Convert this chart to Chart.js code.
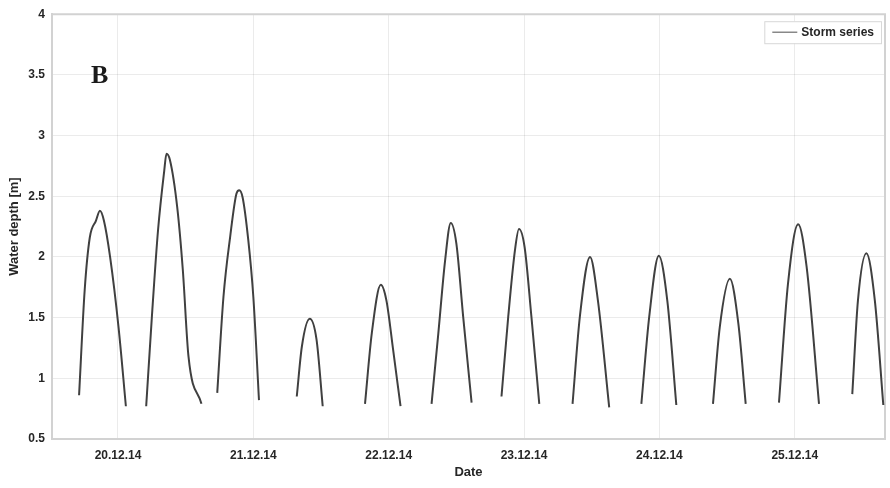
<!DOCTYPE html>
<html>
<head>
<meta charset="utf-8">
<script src="https://cdn.jsdelivr.net/npm/chart.js@4/dist/chart.umd.min.js"></script>
<style>
  html, body { margin: 0; padding: 0; background: #ffffff; }
  canvas { display: block; }
</style>
</head>
<body>
<canvas id="chart" width="890" height="488"></canvas>
<script>
// Tick labels for the date axis (one per day, at midnight)
const dateLabels = ['20.12.14', '21.12.14', '22.12.14', '23.12.14', '24.12.14', '25.12.14'];
const dateTickHours = [0, 24, 48, 72, 96, 120];
const depthTicks = [0.5, 1, 1.5, 2, 2.5, 3, 3.5, 4];

// Storm series: hours since 20.12.14 00:00, one array per high-water window
const seg1Hours  = [-6.9, -5.9, -5.0, -3.9, -3.2, -2.5, -1.4, 0.1, 1.4];
const seg1Depth  = [0.86, 1.73, 2.16, 2.30, 2.38, 2.30, 2.00, 1.42, 0.77];
const seg2Hours  = [5.0, 6.0, 7.1, 8.2, 8.6, 9.2, 10.5, 11.5, 12.5, 14.8];
const seg2Depth  = [0.77, 1.50, 2.22, 2.71, 2.85, 2.80, 2.41, 1.89, 1.18, 0.79];
const seg3Hours  = [17.6, 18.7, 19.9, 21.0, 21.5, 22.1, 23.1, 24.0, 25.0];
const seg3Depth  = [0.88, 1.67, 2.17, 2.52, 2.55, 2.49, 2.14, 1.67, 0.82];
const seg4Hours  = [31.7, 32.6, 34.0, 35.2, 36.3];
const seg4Depth  = [0.85, 1.26, 1.49, 1.32, 0.77];
const seg5Hours  = [43.8, 45.0, 46.6, 47.6, 48.8, 50.1];
const seg5Depth  = [0.79, 1.37, 1.77, 1.64, 1.23, 0.77];
const seg6Hours  = [55.6, 56.8, 58.0, 59.0, 60.0, 61.2, 62.7];
const seg6Depth  = [0.79, 1.37, 1.97, 2.28, 2.11, 1.51, 0.80];
const seg7Hours  = [68.0, 69.2, 70.4, 71.1, 72.1, 73.3, 74.7];
const seg7Depth  = [0.85, 1.51, 2.06, 2.23, 2.08, 1.51, 0.79];
const seg8Hours  = [80.6, 81.9, 83.7, 85.1, 87.1];
const seg8Depth  = [0.79, 1.51, 2.00, 1.64, 0.76];
const seg9Hours  = [92.8, 94.2, 95.9, 97.4, 99.0];
const seg9Depth  = [0.79, 1.51, 2.01, 1.64, 0.78];
const seg10Hours = [105.5, 106.7, 108.5, 110.0, 111.3];
const seg10Depth = [0.79, 1.42, 1.82, 1.45, 0.79];
const seg11Hours = [117.2, 118.8, 120.6, 122.1, 124.3];
const seg11Depth = [0.80, 1.78, 2.27, 1.92, 0.79];
const seg12Hours = [130.2, 131.2, 132.7, 134.2, 135.7];
const seg12Depth = [0.87, 1.64, 2.03, 1.64, 0.78];

const segHours = [seg1Hours, seg2Hours, seg3Hours, seg4Hours, seg5Hours, seg6Hours,
                  seg7Hours, seg8Hours, seg9Hours, seg10Hours, seg11Hours, seg12Hours];
const segDepth = [seg1Depth, seg2Depth, seg3Depth, seg4Depth, seg5Depth, seg6Depth,
                  seg7Depth, seg8Depth, seg9Depth, seg10Depth, seg11Depth, seg12Depth];

// Join the windows into one series, with a null point between windows so the line breaks
const stormPoints = [];
segHours.forEach((hours, i) => {
  hours.forEach((h, j) => stormPoints.push({ x: h, y: segDepth[i][j] }));
  if (i < segHours.length - 1) {
    const gapX = (hours[hours.length - 1] + segHours[i + 1][0]) / 2;
    stormPoints.push({ x: gapX, y: null });
  }
});

const FONT = '"Liberation Sans", Arial, Helvetica, sans-serif';
const TEXT = '#262626';

// Panel letter, plot frame and boxed legend
const decorations = {
  id: 'decorations',
  beforeDatasetsDraw(chart) {
    const { ctx, chartArea: a } = chart;
    ctx.save();
    ctx.strokeStyle = '#d2d2d2';
    ctx.lineWidth = 2;
    ctx.beginPath();
    ctx.moveTo(a.left, a.top);
    ctx.lineTo(a.right, a.top);
    ctx.lineTo(a.right, a.bottom);
    ctx.stroke();
    ctx.restore();
  },
  afterDatasetsDraw(chart) {
    const { ctx, chartArea: a } = chart;
    const ds = chart.data.datasets[0];
    ctx.save();
    // panel letter
    ctx.fillStyle = '#1a1a1a';
    ctx.font = 'bold 26px "Liberation Serif", "Times New Roman", serif';
    ctx.textAlign = 'left';
    ctx.textBaseline = 'alphabetic';
    ctx.fillText('B', 91, 83);
    // legend box
    ctx.font = 'bold 12px ' + FONT;
    const tw = ctx.measureText(ds.label).width;
    const boxRight = a.right - 4;
    const boxLeft = boxRight - tw - 44;
    const boxTop = a.top + 7;
    const boxH = 22;
    ctx.fillStyle = '#ffffff';
    ctx.fillRect(boxLeft, boxTop, boxRight - boxLeft, boxH);
    ctx.strokeStyle = '#d8d8d8';
    ctx.lineWidth = 1;
    ctx.strokeRect(boxLeft + 0.5, boxTop + 0.5, boxRight - boxLeft, boxH);
    const cy = boxTop + boxH / 2;
    ctx.strokeStyle = '#6a6a6a';
    ctx.lineWidth = 1.2;
    ctx.beginPath();
    ctx.moveTo(boxLeft + 8, cy);
    ctx.lineTo(boxLeft + 33, cy);
    ctx.stroke();
    ctx.fillStyle = TEXT;
    ctx.textBaseline = 'middle';
    ctx.fillText(ds.label, boxLeft + 37, cy + 0.5);
    ctx.restore();
  }
};

new Chart(document.getElementById('chart'), {
  type: 'line',
  data: {
    datasets: [{
      label: 'Storm series',
      data: stormPoints,
      borderColor: '#404040',
      borderWidth: 2,
      pointRadius: 0,
      fill: false,
      spanGaps: false,
      cubicInterpolationMode: 'monotone'
    }]
  },
  options: {
    responsive: false,
    animation: false,
    layout: { padding: { top: 14, right: 5, left: 0, bottom: 0 } },
    plugins: { legend: { display: false }, tooltip: { enabled: false } },
    scales: {
      x: {
        type: 'linear',
        min: -11.7,
        max: 136,
        afterFit(scale) { scale.height = 49; },
        afterBuildTicks(scale) { scale.ticks = dateTickHours.map(v => ({ value: v })); },
        grid: { color: 'rgba(0,0,0,0.08)', drawTicks: false },
        border: { color: '#d2d2d2', width: 2 },
        ticks: {
          padding: 9,
          maxRotation: 0,
          autoSkip: false,
          color: TEXT,
          font: { family: FONT, size: 12, weight: 'bold' },
          callback: (v) => dateLabels[dateTickHours.indexOf(v)]
        },
        title: {
          display: true,
          text: 'Date',
          color: TEXT,
          padding: { top: 7, bottom: 8 },
          font: { family: FONT, size: 13, weight: 'bold' }
        }
      },
      y: {
        min: 0.5,
        max: 4,
        afterFit(scale) { scale.width = 52; },
        afterBuildTicks(scale) { scale.ticks = depthTicks.map(v => ({ value: v })); },
        grid: { color: 'rgba(0,0,0,0.08)', drawTicks: false },
        border: { color: '#d2d2d2', width: 2 },
        ticks: {
          padding: 7,
          color: TEXT,
          font: { family: FONT, size: 12, weight: 'bold' },
          callback: (v) => String(v)
        },
        title: {
          display: true,
          text: 'Water depth [m]',
          color: TEXT,
          padding: { top: 7, bottom: 0 },
          font: { family: FONT, size: 13, weight: 'bold' }
        }
      }
    }
  },
  plugins: [decorations]
});
</script>
</body>
</html>
